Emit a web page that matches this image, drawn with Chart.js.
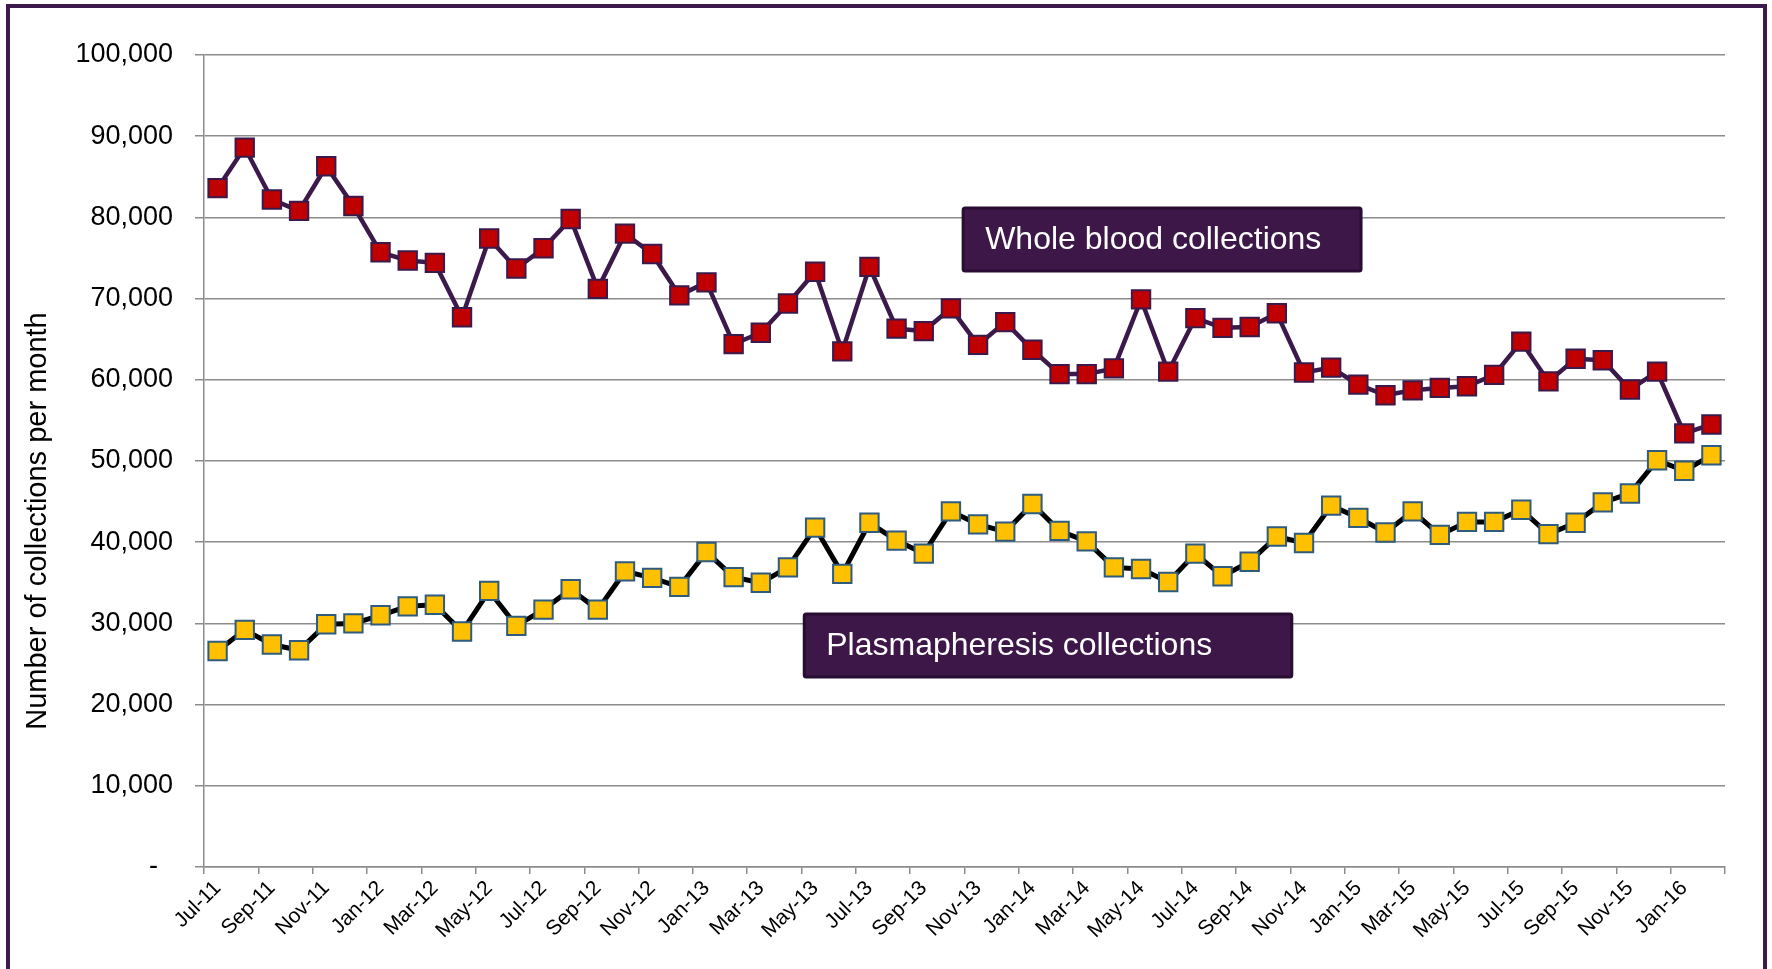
<!DOCTYPE html>
<html>
<head>
<meta charset="utf-8">
<script src="https://cdn.jsdelivr.net/npm/chart.js@4.4.1/dist/chart.umd.min.js"></script>
<style>
  html, body { margin: 0; padding: 0; background: #fff; overflow: hidden; }
  #wrap { position: relative; width: 1772px; height: 969px; }
  #frame {
    position: absolute; left: 6px; top: 4px;
    width: 1753px; height: 1100px;
    border: 4px solid #3c1a4e;
    pointer-events: none;
  }
</style>
</head>
<body>
<div id="wrap">
  <canvas id="collectionsChart" width="1772" height="969"></canvas>
  <div id="frame"></div>
</div>
<script>
// ===== data =====
const months = [
  'Jul-11', 'Aug-11', 'Sep-11', 'Oct-11', 'Nov-11', 'Dec-11',
  'Jan-12', 'Feb-12', 'Mar-12', 'Apr-12', 'May-12', 'Jun-12',
  'Jul-12', 'Aug-12', 'Sep-12', 'Oct-12', 'Nov-12', 'Dec-12',
  'Jan-13', 'Feb-13', 'Mar-13', 'Apr-13', 'May-13', 'Jun-13',
  'Jul-13', 'Aug-13', 'Sep-13', 'Oct-13', 'Nov-13', 'Dec-13',
  'Jan-14', 'Feb-14', 'Mar-14', 'Apr-14', 'May-14', 'Jun-14',
  'Jul-14', 'Aug-14', 'Sep-14', 'Oct-14', 'Nov-14', 'Dec-14',
  'Jan-15', 'Feb-15', 'Mar-15', 'Apr-15', 'May-15', 'Jun-15',
  'Jul-15', 'Aug-15', 'Sep-15', 'Oct-15', 'Nov-15', 'Dec-15',
  'Jan-16', 'Feb-16'
];

const wholeBlood = [
  83600, 88600, 82200, 80800, 86300, 81400,
  75700, 74700, 74400, 67700, 77400, 73700,
  76200, 79800, 71200, 78000, 75500, 70400,
  72000, 64400, 65800, 69400, 73300, 63500,
  73900, 66300, 66000, 68800, 64300, 67100,
  63700, 60700, 60700, 61400, 69900, 61000,
  67600, 66400, 66500, 68200, 60900, 61500,
  59400, 58100, 58700, 59000, 59200, 60600,
  64700, 59800, 62600, 62400, 58800, 61000,
  53400, 54500
];

const plasma = [
  26600, 29200, 27400, 26700, 29900, 30000,
  31000, 32100, 32300, 29000, 34000, 29700,
  31700, 34200, 31700, 36400, 35600, 34500,
  38800, 35700, 35000, 36900, 41800, 36100,
  42400, 40200, 38600, 43800, 42200, 41300,
  44700, 41400, 40100, 36900, 36700, 35100,
  38600, 35800, 37600, 40700, 39900, 44500,
  43000, 41200, 43800, 40900, 42500, 42500,
  44000, 41000, 42400, 44900, 46000, 50100,
  48800, 50700
];

const seriesNames = ['Whole blood collections', 'Plasmapheresis collections'];
const yAxisTitle = 'Number of collections per month';

const FONT = '"Liberation Sans", Arial, sans-serif';
const GRID = '#8c8c8c';

// 라벨 박스 (x: 카테고리 인덱스, y: 값 기준)
const callouts = [
  { text: seriesNames[0], from: 27.45, to: 42.1, top: 81150, bottom: 73400 },
  { text: seriesNames[1], from: 21.6, to: 39.55, top: 31150, bottom: 23400 }
];

const calloutPlugin = {
  id: 'callouts',
  afterDatasetsDraw(chart) {
    const { ctx, scales: { x, y } } = chart;
    ctx.save();
    callouts.forEach(b => {
      const left = x.getPixelForValue(b.from);
      const right = x.getPixelForValue(b.to);
      const top = y.getPixelForValue(b.top);
      const bottom = y.getPixelForValue(b.bottom);
      ctx.beginPath();
      ctx.roundRect(left, top, right - left, bottom - top, 2);
      ctx.fillStyle = '#3d1748';
      ctx.fill();
      ctx.lineWidth = 3;
      ctx.strokeStyle = '#2a0d33';
      ctx.stroke();
      ctx.fillStyle = '#ffffff';
      ctx.font = `32px ${FONT}`;
      ctx.textAlign = 'left';
      ctx.textBaseline = 'middle';
      ctx.fillText(b.text, left + 22, (top + bottom) / 2 + 1);
    });
    ctx.restore();
  }
};

// y축 제목 (차트 영역 중앙보다 아래쪽)
const yTitlePlugin = {
  id: 'yTitle',
  afterDraw(chart) {
    const { ctx, chartArea } = chart;
    ctx.save();
    ctx.translate(46, (chartArea.top + chartArea.bottom) / 2 + 60);
    ctx.rotate(-Math.PI / 2);
    ctx.font = `29px ${FONT}`;
    ctx.fillStyle = '#000';
    ctx.textAlign = 'center';
    ctx.textBaseline = 'alphabetic';
    ctx.fillText(yAxisTitle, 0, 0);
    ctx.restore();
  }
};

const ctx = document.getElementById('collectionsChart');

new Chart(ctx, {
  type: 'line',
  data: {
    labels: months,
    datasets: [
      {
        label: seriesNames[0],
        data: wholeBlood,
        borderColor: '#3b1a4b',
        borderWidth: 4.5,
        tension: 0,
        pointStyle: 'rect',
        pointRadius: 13,
        pointHoverRadius: 13,
        pointBackgroundColor: '#c00000',
        pointBorderColor: '#3b1a4b',
        pointBorderWidth: 2
      },
      {
        label: seriesNames[1],
        data: plasma,
        borderColor: '#000000',
        borderWidth: 5,
        tension: 0,
        pointStyle: 'rect',
        pointRadius: 13,
        pointHoverRadius: 13,
        pointBackgroundColor: '#ffc000',
        pointBorderColor: '#2e5b7e',
        pointBorderWidth: 2
      }
    ]
  },
  options: {
    responsive: false,
    animation: false,
    devicePixelRatio: 1,
    layout: { padding: { top: 55, right: 47, bottom: 0, left: 0 } },
    plugins: {
      legend: { display: false },
      tooltip: { enabled: false }
    },
    scales: {
      x: {
        offset: true,
        grid: {
          offset: true,
          drawOnChartArea: false,
          drawTicks: true,
          tickLength: 7,
          lineWidth: 1.5,
          color: c => (c.index === undefined || c.index % 2 === 0) ? GRID : 'rgba(0,0,0,0)'
        },
        border: { display: true, color: GRID, width: 1.5 },
        ticks: {
          autoSkip: false,
          maxRotation: 45,
          minRotation: 45,
          padding: 2,
          color: '#000',
          font: { family: FONT, size: 21 },
          callback: (v, i) => i % 2 === 0 ? months[i] : ''
        },
        afterFit: s => { s.height = 102; }
      },
      y: {
        min: 0,
        max: 100000,
        ticks: {
          stepSize: 10000,
          padding: 22,
          color: '#000',
          font: { family: FONT, size: 27 },
          callback: v => v === 0 ? '-  ' : v.toLocaleString('en-US')
        },
        grid: { color: GRID, lineWidth: 1.5, tickLength: 9 },
        border: { display: true, color: GRID, width: 1.5 },
        afterFit: s => { s.width = 204; }
      }
    }
  },
  plugins: [calloutPlugin, yTitlePlugin]
});
</script>
</body>
</html>
